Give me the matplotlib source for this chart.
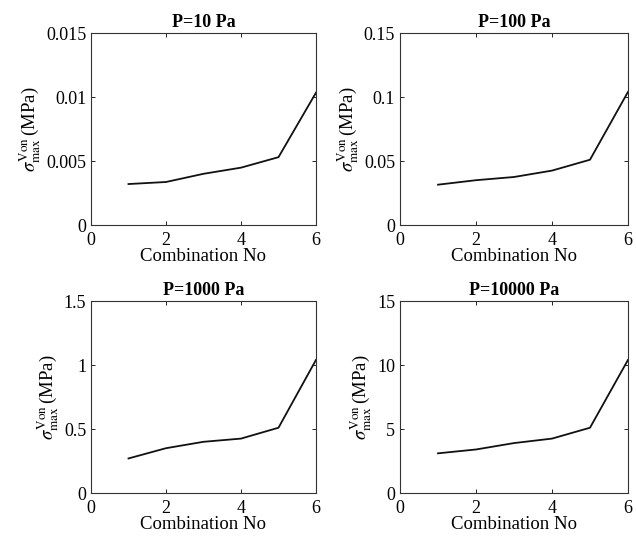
import matplotlib
matplotlib.use("Agg")
import matplotlib.pyplot as plt

plt.rcParams['font.family'] = ['Liberation Serif', 'DejaVu Serif']
plt.rcParams['mathtext.fontset'] = 'stix'

combination = [1, 2, 3, 4, 5, 6]
titles = ['P=10 Pa', 'P=100 Pa', 'P=1000 Pa', 'P=10000 Pa']
stress_10 = [0.0032, 0.00336, 0.0040, 0.00448, 0.0053, 0.01034]
stress_100 = [0.0315, 0.035, 0.0375, 0.0425, 0.051, 0.104]
stress_1000 = [0.27, 0.35, 0.40, 0.425, 0.51, 1.04]
stress_10000 = [3.1, 3.4, 3.9, 4.25, 5.1, 10.4]
y_max = [0.015, 0.15, 1.5, 15]
y_ticks = [[0, 0.005, 0.01, 0.015],
           [0, 0.05, 0.1, 0.15],
           [0, 0.5, 1, 1.5],
           [0, 5, 10, 15]]
x_ticks = [0, 2, 4, 6]

series = [stress_10, stress_100, stress_1000, stress_10000]

fig = plt.figure(figsize=(6.36, 5.39), dpi=100)
W, H = 636, 539
# axes boxes in pixels: left, top, right, bottom
boxes = [(91, 33, 316, 225), (400, 33, 628, 225),
         (91, 301, 316, 493), (400, 301, 628, 493)]

for i, (l, t, r, b) in enumerate(boxes):
    ax = fig.add_axes([l / W, 1 - b / H, (r - l) / W, (b - t) / H])
    ax.plot(combination, series[i], color='#111111', lw=1.3)
    ax.set_xlim(0, 6)
    ax.set_ylim(0, y_max[i])
    ax.set_xticks(x_ticks)
    ax.set_yticks(y_ticks[i])
    ax.set_yticklabels(['%g' % v for v in y_ticks[i]])
    ax.tick_params(direction='in', top=True, right=True, labelsize=13,
                   length=3, width=0.6)
    ax.tick_params(axis='x', pad=5)
    for s in ax.spines.values():
        s.set_linewidth(0.8)
        s.set_color('#333333')
    ax.set_xlabel('Combination No', fontsize=13.5, labelpad=-1)
    ax.set_ylabel(r'$\sigma_{\mathrm{max}}^{\mathrm{Von}}\,$(MPa)', fontsize=13.5, labelpad=2)
    ax.set_title(titles[i], fontsize=13, fontweight='bold', pad=4)

fig.savefig('out.png', dpi=100)
